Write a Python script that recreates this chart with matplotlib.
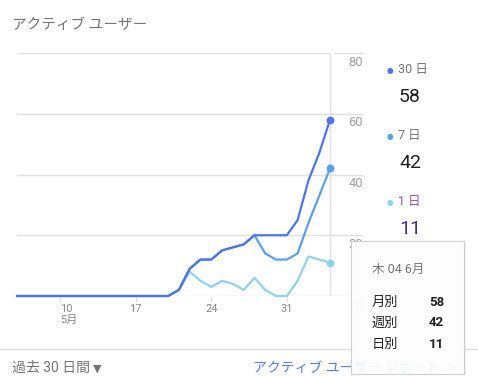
# アクティブ ユーザー カード (Google アナリティクス風)

import pandas as pd
import matplotlib.pyplot as plt
import matplotlib.dates as mdates
from matplotlib.patches import FancyBboxPatch

plt.rcParams['font.family'] = ['Roboto', 'Noto Sans CJK JP', 'DejaVu Sans']

W, H = 478, 376

dates = pd.date_range("2018-05-06", "2018-06-04")
users_30d = [0, 0, 0, 0, 0, 0, 0, 0, 0, 0, 0, 0, 0, 0, 0,
             2, 9, 12, 12, 15, 16, 17, 20, 20, 20, 20, 25, 38, 47, 58]
users_7d = [0, 0, 0, 0, 0, 0, 0, 0, 0, 0, 0, 0, 0, 0, 0,
            2, 9, 12, 12, 15, 16, 17, 20, 14, 12, 12, 14, 24, 33, 42]
users_1d = [0, 0, 0, 0, 0, 0, 0, 0, 0, 0, 0, 0, 0, 0, 0,
            2, 8, 5, 3, 5, 4, 2, 6, 2, 0, 0, 5, 13, 12, 11]

series_names = ["30 日", "7 日", "1 日"]
tooltip_names = ["月別", "週別", "日別"]
colors = ["#4f74e6", "#5aa0f0", "#8fd1ee"]
y_ticks = [0, 20, 40, 60, 80]
x_ticks = pd.to_datetime(["2018-05-10", "2018-05-17", "2018-05-24", "2018-05-31"])
x_labels = ["10\n5月", "17", "24", "31"]

GRID = "#e0e0e0"
GRAY = "#757575"


def fx(x):
    return x / W


def fy(y):
    return 1 - y / H


fig = plt.figure(figsize=(W / 100, H / 100), dpi=100)

# plot area: x 17..363 px, y 53..296 px
ax = fig.add_axes([fx(17), fy(296), fx(363 - 17), (296 - 53) / H])
x0 = mdates.date2num(dates[0])
x1 = mdates.date2num(dates[-1])
px_per_day = (330 - 17) / (x1 - x0)
ax.set_xlim(x0, x0 + (363 - 17) / px_per_day)
ax.set_ylim(0, 80)
for s in ax.spines.values():
    s.set_visible(False)

for v in y_ticks[:-1]:
    ax.axhline(v, color=GRID, lw=1, zorder=0)
ax.hlines(80, x0, x1 - 0.1, color=GRID, lw=1, zorder=0)
ax.hlines(80, x1 + 0.35, ax.get_xlim()[1], color=GRID, lw=1, zorder=0)
ax.vlines(x1, 0, 80, color=GRID, lw=1, zorder=0)

for v in y_ticks:
    ax.text(ax.get_xlim()[1], v - 0.9, str(v), ha="right", va="top",
            fontsize=9.3, color="#a0a0a0")

ax.set_yticks([])
ax.set_xticks(x_ticks)
ax.set_xticklabels(x_labels, fontsize=8, color="#8a8a8a", linespacing=1.1)
ax.xaxis.get_ticklabels()[0].set_ha("left")
ax.tick_params(axis="x", length=4.5, width=0.8, color=GRID, pad=1)

for vals, c, z in zip([users_1d, users_7d, users_30d], colors[::-1], [3, 4, 5]):
    ax.plot(dates, vals, color=c, lw=1.6, zorder=z, clip_on=False,
            solid_joinstyle="round")
    ax.plot(dates[-1:], vals[-1:], "o", color=c, ms=4.6, zorder=z, clip_on=False)

# title
fig.text(fx(12), fy(25), "アクティブ ユーザー", fontsize=10.5, color=GRAY,
         va="center", ha="left")

# right legend
latest = [users_30d[-1], users_7d[-1], users_1d[-1]]
value_colors = ["#212121", "#212121", "#4a2a90"]
name_colors = [GRAY, GRAY, "#8a5a9a"]
for i, (name, val) in enumerate(zip(series_names, latest)):
    yy = 70 + i * 66
    fig.text(fx(390), fy(yy), "●", fontsize=5.5, color=colors[i],
             ha="center", va="center", family="DejaVu Sans")
    fig.text(fx(398), fy(yy), name, fontsize=9, color=name_colors[i],
             ha="left", va="center")
    fig.text(fx(399), fy(yy + 27), str(val), fontsize=14,
             color=value_colors[i], ha="left", va="center")

# footer
fig.add_artist(plt.Line2D([0, 1], [fy(349), fy(349)], color=GRID, lw=1))
fig.text(fx(12), fy(368), "過去 30 日間", fontsize=10, color=GRAY,
         ha="left", va="center")
fig.text(fx(97), fy(369), "▼", fontsize=8, color=GRAY,
         ha="center", va="center", family="DejaVu Sans")
fig.text(fx(253), fy(368), "アクティブ ユーザー レポート  >", fontsize=10,
         color="#5b7fe8", ha="left", va="center")

# tooltip
shadow = FancyBboxPatch((fx(352), fy(375)), fx(114), (375 - 243) / H,
                        boxstyle="square,pad=0", transform=fig.transFigure,
                        facecolor="#000000", alpha=0.05, edgecolor="none",
                        zorder=9)
fig.add_artist(shadow)
box = FancyBboxPatch((fx(351), fy(374)), fx(113), (374 - 241) / H,
                     boxstyle="square,pad=0", transform=fig.transFigure,
                     facecolor="white", alpha=0.92, edgecolor="#cccccc",
                     lw=0.8, zorder=10)
fig.add_artist(box)
fig.text(fx(372), fy(269), "木 04 6月", fontsize=9, color=GRAY,
         ha="left", va="center", zorder=11)
for i, (name, val) in enumerate(zip(tooltip_names, latest)):
    yy = 302 + i * 21
    fig.text(fx(372), fy(yy), name, fontsize=9.5, color="#212121",
             ha="left", va="center", zorder=11)
    fig.text(fx(444), fy(yy), str(val), fontsize=9.5, color="#212121",
             fontweight="bold", ha="right", va="center", zorder=11)

fig.savefig("out.png", dpi=100)
